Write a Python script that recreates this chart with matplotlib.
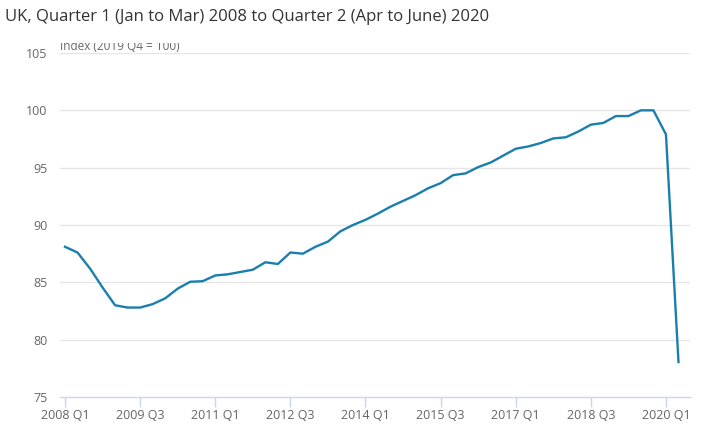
import matplotlib
matplotlib.use("Agg")
import matplotlib.pyplot as plt
from matplotlib.transforms import Bbox

plt.rcParams['font.family'] = ['Open Sans', 'DejaVu Sans']

title = "UK, Quarter 1 (Jan to Mar) 2008 to Quarter 2 (Apr to June) 2020"
unit_label = "Index (2019 Q4 = 100)"

quarters = [f"{y} Q{q}" for y in range(2008, 2021) for q in range(1, 5)][:50]
gdp_index = [
    88.1, 87.6, 86.2, 84.55, 83.0, 82.8, 82.8, 83.1, 83.6, 84.45,
    85.05, 85.1, 85.6, 85.7, 85.9, 86.1, 86.75, 86.6, 87.6, 87.5,
    88.1, 88.55, 89.45, 90.0, 90.45, 91.0, 91.6, 92.1, 92.6, 93.2,
    93.65, 94.35, 94.5, 95.05, 95.45, 96.05, 96.65, 96.85, 97.15, 97.55,
    97.65, 98.15, 98.75, 98.9, 99.5, 99.5, 100.0, 100.0, 97.9, 78.05,
]
tick_labels = ["2008 Q1", "2009 Q3", "2011 Q1", "2012 Q3", "2014 Q1",
               "2015 Q3", "2017 Q1", "2018 Q3", "2020 Q1"]
y_ticks = [75, 80, 85, 90, 95, 100, 105]

W, H = 705, 442
fig = plt.figure(figsize=(W / 100, H / 100), dpi=100)
ax = fig.add_axes([60 / W, (H - 397) / H, 630 / W, 344 / H])

x = list(range(len(quarters)))
ax.plot(x, gdp_index, color="#1a7fae", lw=1.7, solid_joinstyle="round", zorder=3)

ax.set_xlim(-0.4, 49.92)
ax.set_ylim(75, 105)
tick_pos = [quarters.index(t) for t in tick_labels]
ax.set_xticks(tick_pos)
ax.set_xticklabels(tick_labels)
ax.set_yticks(y_ticks)
ax.set_yticklabels([str(v) for v in y_ticks])

for v in y_ticks[1:]:
    ax.axhline(v, color="#e6e6e6", lw=1, zorder=1)

for s in ["top", "right", "left"]:
    ax.spines[s].set_visible(False)
ax.spines["bottom"].set_color("#ccd6eb")
ax.spines["bottom"].set_linewidth(1)

ax.tick_params(axis="x", length=7.5, width=1, color="#ccd6eb", pad=1,
               labelsize=9, labelcolor="#666666")
ax.tick_params(axis="y", length=0, pad=9, labelsize=9, labelcolor="#666666")

fig.text(5 / W, 1 - 17 / H, title, fontsize=12, color="#333333",
         ha="left", va="center")

t = fig.text(60 / W, 1 - 50 / H, unit_label, fontsize=8.5, color="#666666",
             ha="left", va="baseline")
clip = Bbox.from_extents(0, 0, W, H - 43)
t.set_clip_box(clip)
t.set_clip_on(True)

fig.savefig("out.png", dpi=100)
